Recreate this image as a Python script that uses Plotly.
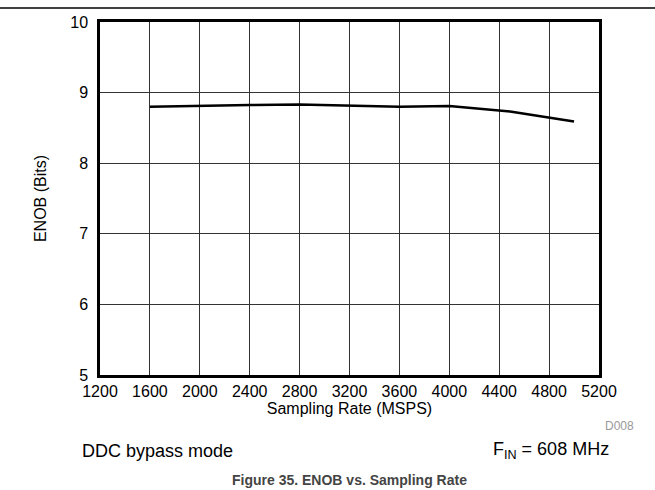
import plotly.graph_objects as go

rate = [1600, 2000, 2400, 2800, 3200, 3600, 4000, 4500, 5000]
enob = [8.80, 8.815, 8.825, 8.83, 8.82, 8.80, 8.81, 8.73, 8.59]
xticks = [1200, 1600, 2000, 2400, 2800, 3200, 3600, 4000, 4400, 4800, 5200]
yticks = [5, 6, 7, 8, 9, 10]

fig = go.Figure()
fig.add_trace(go.Scatter(x=rate, y=enob, mode="lines",
                         line=dict(color="black", width=2.5),
                         showlegend=False, hoverinfo="skip"))

FAM = "Liberation Sans, Arial, sans-serif"
font = dict(family=FAM, size=16, color="black")
fig.update_layout(
    width=655, height=490,
    margin=dict(l=100, r=56, t=22, b=115),
    plot_bgcolor="white", paper_bgcolor="white",
    font=font,
    xaxis=dict(range=[1200, 5200], tickvals=xticks, ticktext=[str(v) for v in xticks],
               tickfont=font,
               showgrid=True, gridcolor="#333", gridwidth=1,
               showline=True, linecolor="black", linewidth=2.5, mirror=True,
               ticks="", zeroline=False,
               title=dict(text="Sampling Rate (MSPS)", font=font, standoff=0)),
    yaxis=dict(range=[5, 10], tickvals=yticks, tickfont=font,
               showgrid=True, gridcolor="#333", gridwidth=1,
               showline=True, linecolor="black", linewidth=2.5, mirror=True,
               ticks="", zeroline=False, ticklabelstandoff=6,
               title=dict(text="ENOB (Bits)", font=font, standoff=20)),
    shapes=[dict(type="line", xref="paper", yref="paper", x0=-0.21, x1=1.12,
                 y0=1.04, y1=1.04, line=dict(color="black", width=1.5))],
    annotations=[
        dict(text="D008", xref="paper", yref="paper", x=1.075, y=-0.145,
             xanchor="right", yanchor="middle", showarrow=False,
             font=dict(family=FAM, size=12, color="#999")),
        dict(text="DDC bypass mode", xref="paper", yref="paper", x=-0.04, y=-0.215,
             xanchor="left", yanchor="middle", showarrow=False,
             font=dict(family=FAM, size=18, color="black")),
        dict(text="F<sub>IN</sub> = 608 MHz", xref="paper", yref="paper", x=1.025, y=-0.215,
             xanchor="right", yanchor="middle", showarrow=False,
             font=dict(family=FAM, size=18, color="black")),
        dict(text="<b>Figure 35. ENOB vs. Sampling Rate</b>", xref="paper", yref="paper",
             x=0.5, y=-0.325, xanchor="center", yanchor="bottom", showarrow=False,
             font=dict(family=FAM, size=14, color="#444")),
    ],
)

fig.write_html("out.html")
